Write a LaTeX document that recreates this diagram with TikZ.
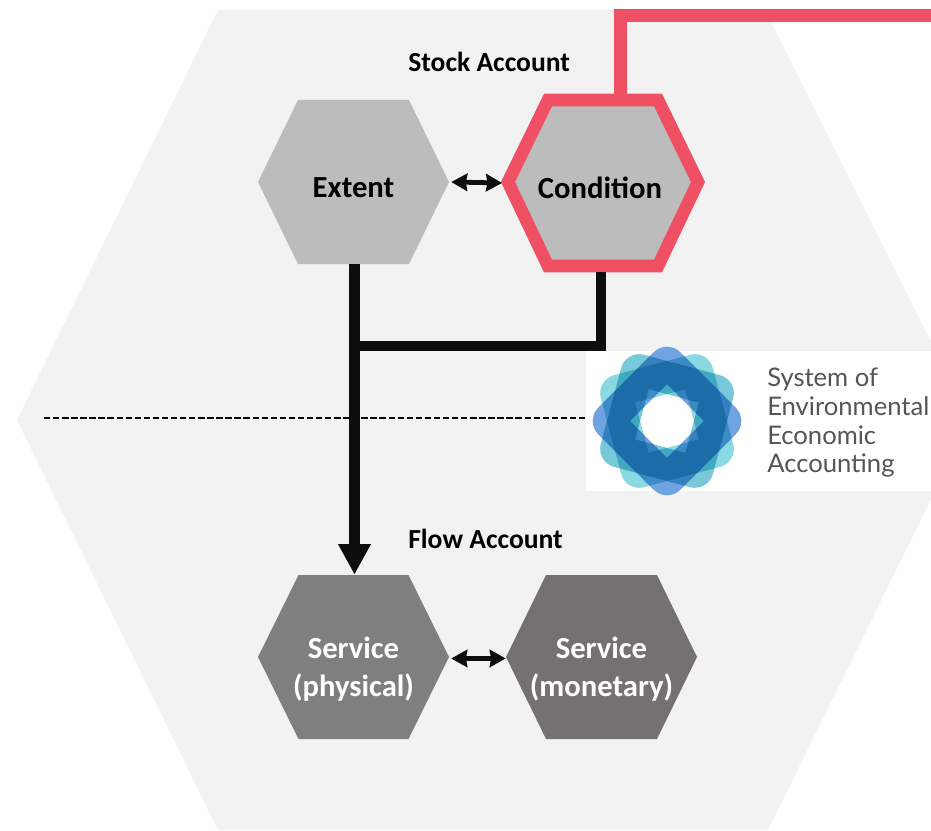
\documentclass[tikz,border=0pt]{standalone}
\usepackage{fontspec}
\setmainfont{Carlito}
\newfontfamily\logofont{Lato}
\usetikzlibrary{arrows.meta}
\definecolor{bgpane}{HTML}{F2F2F2}
\definecolor{stockgrey}{HTML}{BCBCBC}
\definecolor{physgrey}{HTML}{7F7F7F}
\definecolor{monegrey}{HTML}{767171}
\definecolor{accent}{HTML}{EF5064}
\definecolor{ink}{HTML}{0D0D0D}
\definecolor{logotext}{HTML}{555555}
\definecolor{petalA}{HTML}{70A4E0}
\definecolor{petalB}{HTML}{8AD8E2}
\definecolor{petalC}{HTML}{78C8DA}
\tikzset{
  hexbase/.style={draw=none,fill=none,inner sep=0pt},
  hexlabel/.style={inner sep=0pt,align=center,font=\fontsize{23pt}{28pt}\selectfont\bfseries},
  heading/.style={inner sep=0pt,anchor=west,font=\fontsize{20.7pt}{24pt}\selectfont\bfseries,text=black},
  thickline/.style={draw=ink,line width=7.6pt},
  biarrow/.style={draw=ink,line width=3.6pt,{Stealth[length=12pt,width=13pt,inset=1pt]}-{Stealth[length=12pt,width=13pt,inset=1pt]}},
  mainarrow/.style={draw=ink,line width=7.6pt,-{Triangle[length=23pt,width=23pt]}},
  accentline/.style={draw=accent,line width=9.5pt,miter limit=10},
  petal/.style={even odd rule},
}
% \hexnode{name}{cx}{cy}{half width}{half height}{half top}{fill}
\newcommand{\hexnode}[7]{%
  \fill[#7] (#2-#4,#3) -- (#2-#6,#3-#5) -- (#2+#6,#3-#5) -- (#2+#4,#3) -- (#2+#6,#3+#5) -- (#2-#6,#3+#5) -- cycle;
  \node[hexbase,minimum width=#4*1.5pt,minimum height=#5*1.5pt] (#1) at (#2,#3) {};
}
\newcommand{\petalsquare}[2]{%
  \fill[petal,#2,rotate around={#1:(667,421)}]
    [rounded corners=14pt] (609,363) rectangle (725,479)
    [sharp corners] (641,395) rectangle (693,447);
}
\begin{document}
\begin{tikzpicture}[x=0.75pt,y=-0.75pt]
\useasboundingbox (0,0) rectangle (931,831);
\clip (0,0) rectangle (931,831);
\fill[bgpane] (17,420) -- (218,10) -- (765,10) -- (970,420) -- (768,830) -- (218,830) -- cycle;

\hexnode{extent}{353.5}{182}{95.5}{82}{55.5}{stockgrey}
\hexnode{physical}{353.5}{657}{95.5}{82}{55}{physgrey}
\hexnode{monetary}{601.5}{657}{95.5}{82}{55.5}{monegrey}

% condition hexagon with accent outline
\fill[stockgrey] (508,182) -- (548,100) -- (658,100) -- (698,182) -- (658,266) -- (548,266) -- cycle;
\draw[accentline] (508,182) -- (548,100) -- (658,100) -- (698,182) -- (658,266) -- (548,266) -- cycle;
\node[hexbase,minimum width=151pt,minimum height=133.5pt] (condition) at (603,183) {};

\node[hexlabel,text=black] (extentlabel) at ([yshift=-4.5pt]extent.center) {Extent};
\node[hexlabel,text=black] (conditionlabel) at (600,188) {Condition};
\node[hexlabel,text=white] (physicallabel) at ([yshift=-9pt]physical.center) {Service\\(physical)};
\node[hexlabel,text=white] (monetarylabel) at ([yshift=-9pt]monetary.center) {Service\\(monetary)};

\coordinate (redend) at (931,15.5);
\coordinate (redstart) at (620.5,94);
\draw[accentline] (redstart) |- (redend);

\node[heading] (stock) at (408,62) {Stock Account};
\node[heading] (flow) at (408,539) {Flow Account};

\coordinate (dashstart) at (44,418);
\coordinate (junction) at (354.5,346);
\coordinate (condfoot) at (601,346);
\node[fill=white,minimum width=258.75pt,minimum height=105pt,inner sep=0pt,anchor=north west] (logo) at (586,351) {};
\draw[black,line width=.9pt,dash pattern=on 4.8pt off 2pt] (dashstart) -- (dashstart -| logo.west);

\draw[thickline] (condition.south -| condfoot) -- (condfoot) -- (junction);
\draw[mainarrow] (extent.south -| junction) -- (physical.north -| junction);
\draw[biarrow] (extent.east) ++(2,0) -- (condition.west);
\draw[biarrow] (physical.east) ++(2,1.5) -- ([yshift=-1.1pt]monetary.west);

\begin{scope}[blend group=multiply]
\petalsquare{45}{petalA}
\petalsquare{15}{petalB}
\petalsquare{75}{petalC}
\end{scope}

\node[inner sep=0pt,anchor=north west,align=left,text=logotext,font=\logofont\fontsize{19.2pt}{21.5pt}\selectfont] (logotxt) at (767,368) {System of\\Environmental\\Economic\\Accounting};
\end{tikzpicture}
\end{document}
